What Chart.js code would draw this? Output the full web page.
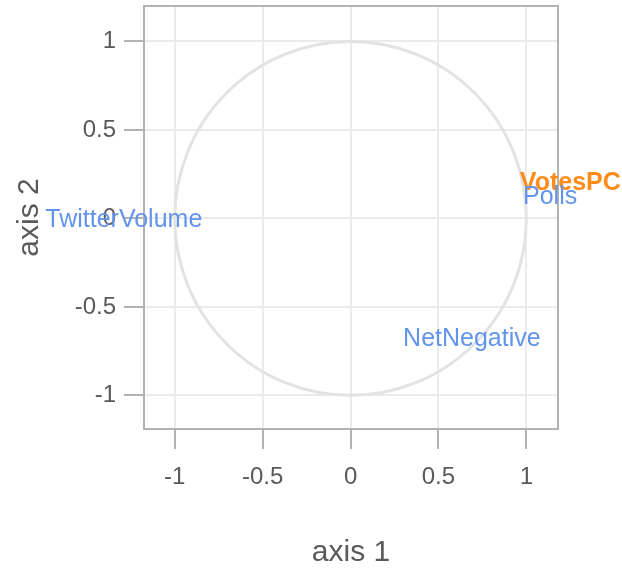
<!DOCTYPE html>
<html>
<head>
<meta charset="utf-8">
<script src="https://cdn.jsdelivr.net/npm/chart.js@4"></script>
<style>
  html, body { margin: 0; padding: 0; background: #ffffff; }
  #wrap { width: 622px; height: 568px; position: relative; }
</style>
</head>
<body>
<div id="wrap"><canvas id="corrCircle"></canvas></div>
<script>
// ---------- Data ----------
const varNames = ["TwitterVolume", "VotesPC", "Polls", "NetNegative"];
const axis1 = [-1.29, 1.25, 1.135, 0.69];
const axis2 = [-0.01, 0.20, 0.12, -0.68];
const supplementary = ["VotesPC"];   // drawn in the second colour
const tickValues = [-1, -0.5, 0, 0.5, 1];
const circleRadius = 1;

// ---------- Styles ----------
const FONT = "'Liberation Sans', Arial, sans-serif";
const TEXT_GREY = "#5a5a5a";
const ACTIVE_COL = "#6394ec";
const SUPP_COL = "#ff8c1a";

const points = varNames.map((name, i) => ({ x: axis1[i], y: axis2[i], name }));

// unit circle + panel frame, drawn over the grid
const circlePlugin = {
  id: "circle",
  beforeDatasetsDraw(chart) {
    const { ctx, chartArea, scales } = chart;
    const cx = scales.x.getPixelForValue(0);
    const cy = scales.y.getPixelForValue(0);
    const rx = scales.x.getPixelForValue(circleRadius) - cx;
    const ry = cy - scales.y.getPixelForValue(circleRadius);
    ctx.save();
    ctx.strokeStyle = "#e3e3e3";
    ctx.lineWidth = 3;
    ctx.beginPath();
    ctx.ellipse(cx, cy, rx, ry, 0, 0, Math.PI * 2);
    ctx.stroke();
    ctx.strokeStyle = "#b3b3b3";
    ctx.lineWidth = 2;
    ctx.strokeRect(chartArea.left, chartArea.top,
      chartArea.right - chartArea.left, chartArea.bottom - chartArea.top);
    ctx.restore();
  }
};

// variable names written at their coordinates
const labelPlugin = {
  id: "varLabels",
  afterDatasetsDraw(chart) {
    const { ctx } = chart;
    const meta = chart.getDatasetMeta(0);
    ctx.save();
    ctx.textAlign = "center";
    ctx.textBaseline = "middle";
    meta.data.forEach((el, i) => {
      const name = varNames[i];
      const supp = supplementary.includes(name);
      ctx.font = (supp ? "bold " : "") + "25px " + FONT;
      ctx.fillStyle = supp ? SUPP_COL : ACTIVE_COL;
      ctx.fillText(name, el.x, el.y);
    });
    ctx.restore();
  }
};

const axisCommon = {
  type: "linear",
  ticks: {
    includeBounds: false,
    stepSize: 0.5,
    color: TEXT_GREY,
    font: { family: FONT, size: 24 },
    callback: v => (tickValues.includes(v) ? String(v) : "")
  },
  grid: {
    color: "#ebebeb",
    lineWidth: 2,
    drawTicks: true,
    tickLength: 20,
    tickColor: "#b3b3b3",
    tickWidth: 2
  },
  border: { display: false }
};

new Chart(document.getElementById("corrCircle"), {
  type: "scatter",
  data: {
    datasets: [{
      data: points,
      pointRadius: 0,
      pointHoverRadius: 0,
      showLine: false
    }]
  },
  options: {
    responsive: true,
    maintainAspectRatio: false,
    animation: false,
    events: [],
    layout: { padding: { top: 6, right: 64, left: 0, bottom: 0 } },
    plugins: {
      legend: { display: false },
      tooltip: { enabled: false }
    },
    scales: {
      x: {
        ...axisCommon,
        min: -1.175,
        max: 1.18,
        ticks: { ...axisCommon.ticks, padding: 14, maxRotation: 0 },
        title: {
          display: true,
          text: "axis 1",
          color: TEXT_GREY,
          font: { family: FONT, size: 30, lineHeight: 1 },
          padding: { top: 0, bottom: 0 }
        },
        afterFit(scale) {
          scale.height = 139;
          scale.paddingLeft = 0;
          scale.paddingRight = 0;
        }
      },
      y: {
        ...axisCommon,
        min: -1.19,
        max: 1.2,
        ticks: { ...axisCommon.ticks, padding: 8 },
        title: {
          display: true,
          text: "axis 2",
          color: TEXT_GREY,
          font: { family: FONT, size: 30, lineHeight: 1 },
          padding: { top: 15, bottom: 0 }
        },
        afterFit(scale) {
          scale.width = 144;
          scale.paddingTop = 0;
          scale.paddingBottom = 0;
        }
      }
    }
  },
  plugins: [circlePlugin, labelPlugin]
});
</script>
</body>
</html>
